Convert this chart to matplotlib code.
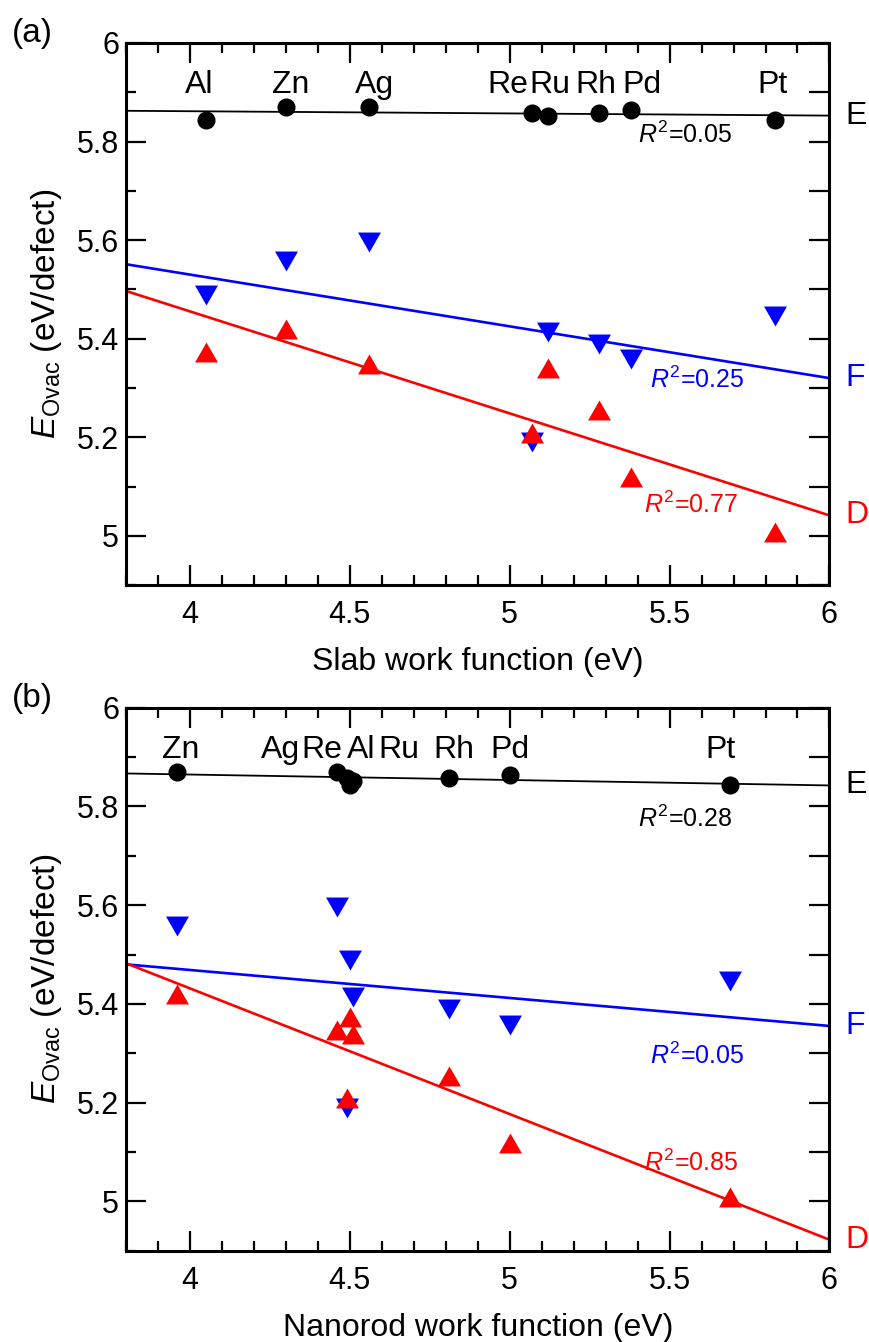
import numpy as np
import matplotlib
matplotlib.use("Agg")
import matplotlib.pyplot as plt
from matplotlib.path import Path
from matplotlib.ticker import FixedLocator, MultipleLocator, FuncFormatter
import matplotlib.transforms as mtransforms

plt.rcParams['font.family'] = ['Liberation Sans', 'DejaVu Sans']
plt.rcParams['mathtext.fontset'] = 'custom'
plt.rcParams['mathtext.rm'] = 'Liberation Sans'
plt.rcParams['mathtext.it'] = 'Liberation Sans:italic'
NARROW = ['Liberation Sans Narrow', 'Liberation Sans']

# metals and defect formation energies (eV/defect)
metals = ["Al", "Zn", "Ag", "Re", "Ru", "Rh", "Pd", "Pt"]
E_edge = [5.844, 5.870, 5.870, 5.857, 5.852, 5.857, 5.864, 5.844]
E_face = [5.489, 5.558, 5.597, 5.190, 5.414, 5.390, 5.358, 5.447]
E_dent = [5.373, 5.420, 5.348, 5.209, 5.340, 5.255, 5.119, 5.008]

# work functions (eV)
slab_wf = [4.05, 4.30, 4.56, 5.07, 5.12, 5.28, 5.38, 5.83]
rod_wf = [4.50, 3.96, 4.46, 4.49, 4.51, 4.81, 5.00, 5.69]

r2_slab = ["0.05", "0.25", "0.77"]
r2_rod = ["0.28", "0.05", "0.85"]

# label nudges so the metal names don't collide (same order as metals)
dx_slab = [-0.02, 0.015, 0.016, -0.075, 0.005, -0.009, 0.035, -0.007]
dx_rod = [0.037, 0.01, -0.178, -0.078, 0.142, 0.014, 0.0, -0.03]

# slightly wide triangles, like the original
tri_up = Path([(-0.575, -0.5), (0.575, -0.5), (0.0, 0.5), (-0.575, -0.5)], closed=True)
tri_dn = Path([(-0.575, 0.5), (0.575, 0.5), (0.0, -0.5), (-0.575, 0.5)], closed=True)


def panel(ax, wf, r2, dx, xlabel, tag, r2_pos):
    x = np.array(wf)
    xx = np.array([3.8, 6.0])
    series = [(E_edge, "black", "E", 1.3), (E_face, "blue", "F", 1.9), (E_dent, "red", "D", 1.9)]
    trans = mtransforms.blended_transform_factory(ax.transAxes, ax.transData)
    for (y, c, name, lw), r, (rx, ry) in zip(series, r2, r2_pos):
        k, b = np.polyfit(x, np.array(y), 1)
        ax.plot(xx, k * xx + b, color=c, lw=lw, zorder=2)
        ax.text(1.022, k * 6.0 + b, name, color=c, fontsize=23, ha='left', va='center',
                transform=trans)
        ax.text(rx, ry, r"$R^2$=" + r, color=c, fontsize=18, ha='left', va='center')

    ax.plot(x, E_face, marker=tri_dn, color='blue', ms=16.5, mew=0, ls='none', zorder=3)
    ax.plot(x, E_dent, marker=tri_up, color='red', ms=16.5, mew=0, ls='none', zorder=4)
    ax.plot(x, E_edge, 'o', color='black', ms=13, mew=0, ls='none', zorder=5)

    for xi, d, m in zip(x, dx, metals):
        ax.text(xi + d, 5.915, m, fontsize=23, ha='center', va='center', family=NARROW)

    ax.set_xlim(3.8, 6)
    ax.set_ylim(4.9, 6)
    ax.xaxis.set_major_locator(FixedLocator([4, 4.5, 5, 5.5, 6]))
    ax.xaxis.set_minor_locator(MultipleLocator(0.1))
    ax.yaxis.set_major_locator(FixedLocator([5, 5.2, 5.4, 5.6, 5.8, 6]))
    ax.yaxis.set_minor_locator(FixedLocator([4.9, 5.1, 5.3, 5.5, 5.7, 5.9]))
    fmt = FuncFormatter(lambda v, p: f"{v:g}")
    ax.xaxis.set_major_formatter(fmt)
    ax.yaxis.set_major_formatter(fmt)
    ax.tick_params(which='both', direction='in', top=True, right=False, width=1.6,
                   labelsize=22)
    ax.tick_params(which='major', length=14.4)
    ax.tick_params(which='minor', length=7.5)
    ax.tick_params(axis='x', which='major', pad=11)
    ax.tick_params(axis='y', which='major', pad=5)
    for s in ax.spines.values():
        s.set_linewidth(2.2)

    # right-hand ticks are all long in the original
    rx_ax = ax.twinx()
    rx_ax.set_ylim(4.9, 6)
    rx_ax.yaxis.set_major_locator(FixedLocator(np.arange(49, 61) / 10))
    rx_ax.tick_params(direction='in', length=14.4, width=1.6, labelright=False)
    for s in rx_ax.spines.values():
        s.set_visible(False)

    ax.set_xlabel(xlabel, fontsize=23, labelpad=12)
    ax.set_ylabel(r"$E_{\rm Ovac}$ (eV/defect)", fontsize=24, labelpad=9)
    ax.text(-0.162, 1.046, tag, transform=ax.transAxes, fontsize=24, ha='left', va='top')


fig = plt.figure(figsize=(8.69, 13.42), dpi=100)
ax1 = fig.add_axes([0.1450, 0.564, 0.8095, 0.404])
ax2 = fig.add_axes([0.1450, 0.068, 0.8095, 0.4046])

panel(ax1, slab_wf, r2_slab, dx_slab, "Slab work function (eV)", "(a)",
      [(5.40, 5.813), (5.44, 5.316), (5.42, 5.063)])
panel(ax2, rod_wf, r2_rod, dx_rod, "Nanorod work function (eV)", "(b)",
      [(5.40, 5.776), (5.44, 5.295), (5.42, 5.079)])

fig.savefig("out.png", dpi=100)
